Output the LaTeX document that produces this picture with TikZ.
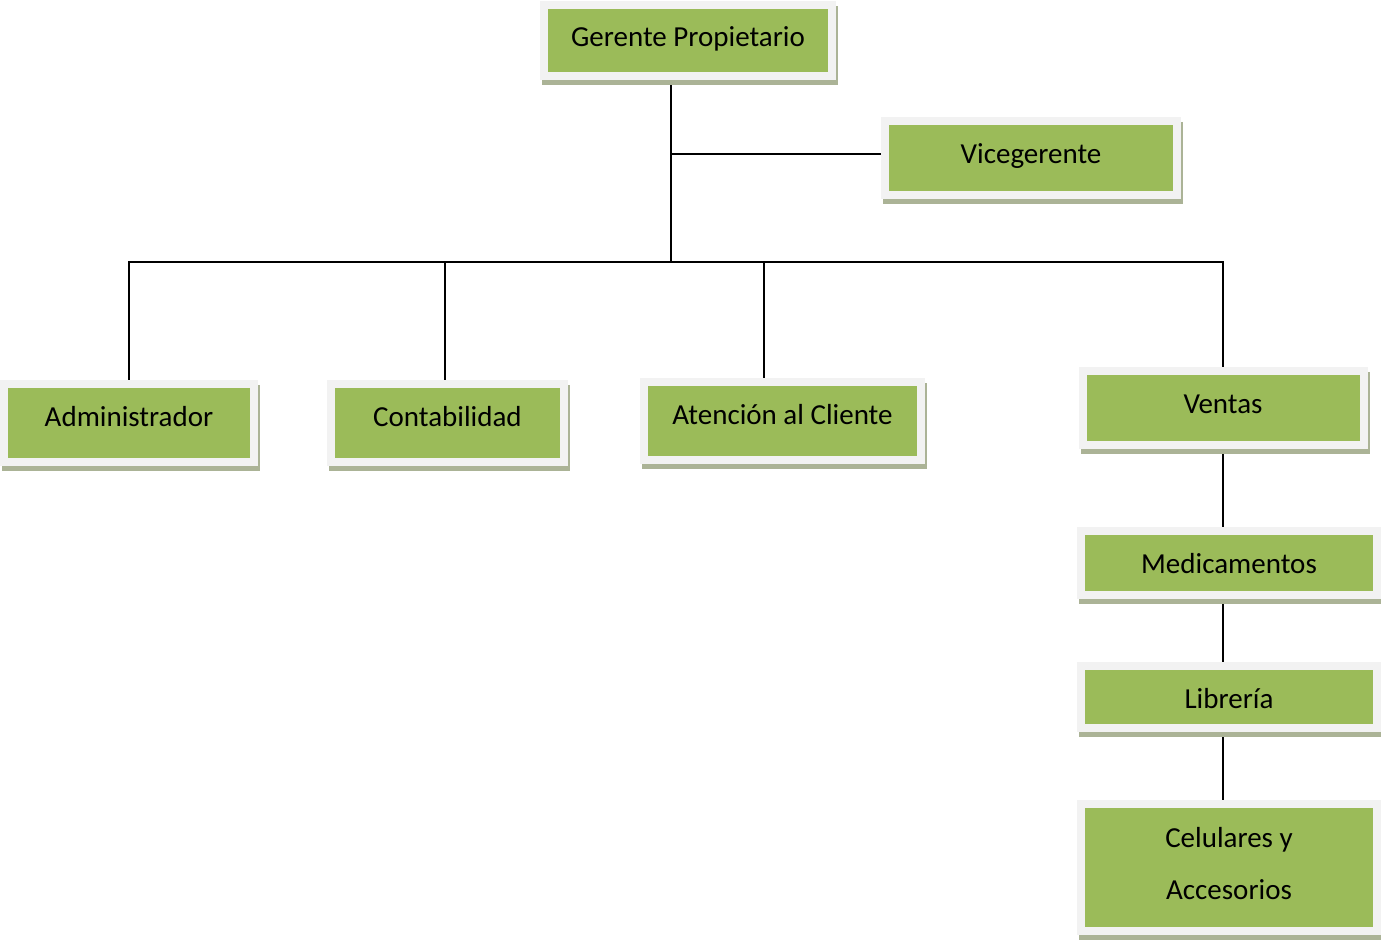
\documentclass[tikz,border=0pt]{standalone}
\usepackage{fontspec}
\setmainfont{Carlito}
\usetikzlibrary{shadows}
\definecolor{boxgreen}{HTML}{9BBB59}
\definecolor{boxgray}{HTML}{F2F2F2}
\definecolor{shadowc}{HTML}{ABB396}
\pgfdeclarelayer{background}
\pgfsetlayers{background,main}
\tikzset{
  orgbox/.style={fill=boxgray, inner sep=0pt, outer sep=0pt, align=center,
    font=\fontsize{29}{35}\selectfont, text height=20pt, text depth=6pt,
    drop shadow={shadow xshift=2pt, shadow yshift=-5pt, fill=shadowc, opacity=1},
    path picture={\fill[boxgreen] ([xshift=8pt,yshift=-8pt]path picture bounding box.north west)
      rectangle ([xshift=-8pt,yshift=8pt]path picture bounding box.south east);}},
  conn/.style={line width=1.6pt, black}
}
\begin{document}
\begin{tikzpicture}[x=1pt,y=-1pt]
\useasboundingbox (0,0) rectangle (1381,941);
\node[orgbox, minimum width=296pt, minimum height=79pt] (ger) at (688,40.5) {\raisebox{1pt}{Gerente Propietario}};
\node[orgbox, minimum width=300pt, minimum height=82pt] (vice) at (1031,158) {\raisebox{1pt}{Vicegerente}};
\node[orgbox, minimum width=258pt, minimum height=86pt] (adm) at (129,423) {\raisebox{4pt}{Administrador}};
\node[orgbox, minimum width=241pt, minimum height=86pt] (con) at (447.5,423) {\raisebox{4pt}{Contabilidad}};
\node[orgbox, minimum width=285pt, minimum height=86pt] (ate) at (782.5,421) {\raisebox{4pt}{Atención al Cliente}};
\node[orgbox, minimum width=289pt, minimum height=82pt] (ven) at (1223,408) {\raisebox{2pt}{Ventas}};
\node[orgbox, minimum width=304pt, minimum height=72pt] (med) at (1229,563) {\raisebox{-3pt}{Medicamentos}};
\node[orgbox, minimum width=304pt, minimum height=70pt] (lib) at (1229,697) {\raisebox{-4pt}{Librería}};
\node[orgbox, minimum width=304pt, minimum height=135pt] (cel) at (1229,867.5) {\raisebox{1.5pt}{\begin{tabular}{c}Celulares y\\[17pt]Accesorios\end{tabular}}};
\coordinate (j) at (671,262);
\coordinate (vj) at (671,154);
\coordinate (cj) at (445,262);
\coordinate (aj) at (764,262);
\begin{pgfonlayer}{background}
\draw[conn] (j |- ger.south) -- (j);
\draw[conn] (vj) -- (vice.west |- vj);
\draw[conn] (adm.north) |- (ven.north |- j) -- (ven.north);
\draw[conn] (cj) -- (cj |- con.north);
\draw[conn] (aj) -- (aj |- ate.north);
\draw[conn] (ven.south) -- (ven.south |- med.north);
\draw[conn] (ven.south |- med.south) -- (ven.south |- lib.north);
\draw[conn] (ven.south |- lib.south) -- (ven.south |- cel.north);
\end{pgfonlayer}
\end{tikzpicture}
\end{document}
